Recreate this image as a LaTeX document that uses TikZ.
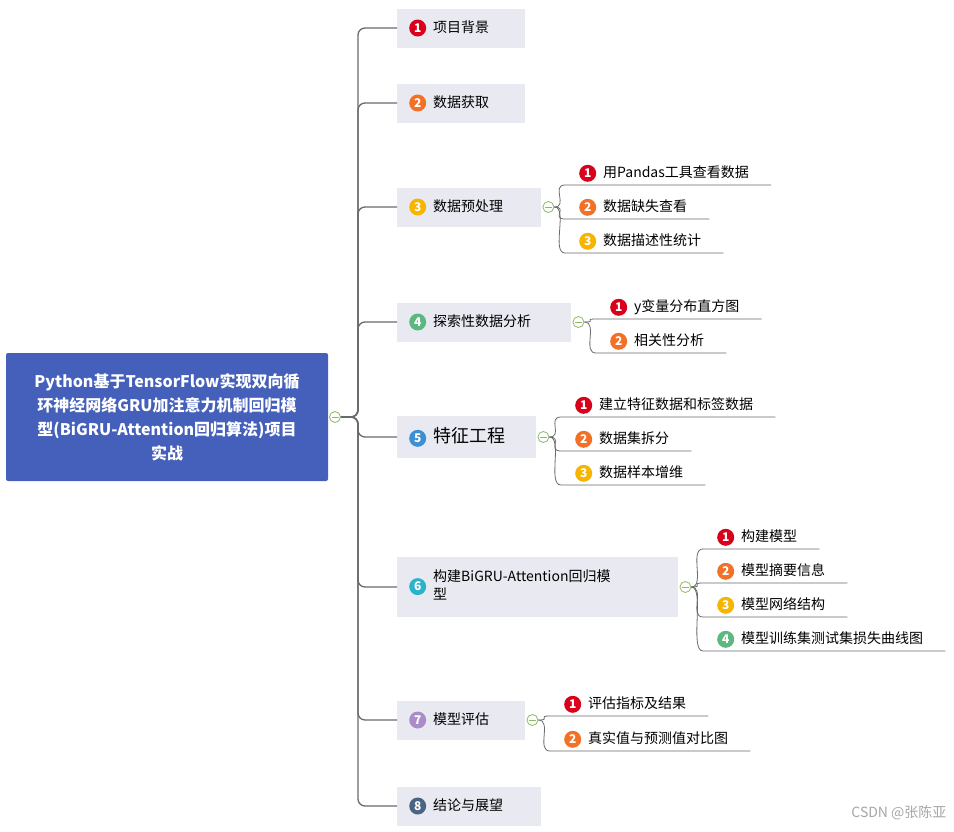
\documentclass[tikz,border=0pt]{standalone}
\usepackage{fontspec}
\setmainfont{Noto Sans CJK SC}
\usetikzlibrary{positioning}
\definecolor{rootblue}{HTML}{4560BA}
\definecolor{boxgray}{HTML}{E9EAF1}
\definecolor{linegray}{HTML}{6A6A6A}
\definecolor{cA}{HTML}{D9001B}
\definecolor{cB}{HTML}{F27127}
\definecolor{cC}{HTML}{F7B500}
\definecolor{cD}{HTML}{5CB87E}
\definecolor{cE}{HTML}{3C8FD3}
\definecolor{cF}{HTML}{2BB4C9}
\definecolor{cG}{HTML}{A98CC9}
\definecolor{cH}{HTML}{4A6584}
\definecolor{fold}{HTML}{8DBB62}
\newcommand{\badge}[2]{\raisebox{-4.5pt}{\tikz\node[circle,fill=#1,inner sep=0pt,minimum size=17pt,text=white,font=\fontsize{12}{12}\selectfont\bfseries]{#2};}\hspace{7pt}}
\tikzset{
  branch/.style={rectangle,fill=boxgray,anchor=west,minimum height=39pt,inner xsep=12pt,align=left,font=\fontsize{14}{18}\selectfont},
  leaf/.style={anchor=south west,inner xsep=4pt,inner ysep=3pt,font=\fontsize{14}{17}\selectfont},
  trunk/.style={draw=linegray,line width=1.3pt,rounded corners=7pt},
  twig/.style={draw=linegray,line width=0.8pt},
  foldmark/.style={circle,draw=fold,fill=white,line width=0.8pt,minimum size=11pt,inner sep=0pt,
    path picture={\draw[fold,line width=0.8pt] ([xshift=-3.5pt]path picture bounding box.center) -- ([xshift=3.5pt]path picture bounding box.center);}}
}
\newcommand{\leafline}[2]{\draw[twig] (#1) .. controls ([xshift=14pt]#1) and ([xshift=-14pt]#2.south west) .. (#2.south west) -- ([xshift=18pt]#2.south east);}
\begin{document}
\begin{tikzpicture}[x=1pt,y=-1pt]
\useasboundingbox (0,0) rectangle (954,831);

% root
\node[fill=rootblue,text=white,rounded corners=2pt,minimum width=322pt,minimum height=128pt,align=center,
  font=\fontsize{16}{24}\selectfont\bfseries] (root) at (167,417)
  {Python基于TensorFlow实现双向循\\环神经网络GRU加注意力机制回归模\\型(BiGRU-Attention回归算法)项目\\实战};

% main branches
\node[branch,text width=104pt] (b1) at (397,28) {\badge{cA}{1}项目背景};
\node[branch,text width=104pt] (b2) at (397,103) {\badge{cB}{2}数据获取};
\node[branch,text width=120pt] (b3) at (397,207) {\badge{cC}{3}数据预处理};
\node[branch,text width=150pt] (b4) at (397,322) {\badge{cD}{4}探索性数据分析};
\node[branch,text width=115pt,minimum height=42pt,font=\fontsize{18}{20}\selectfont] (b5) at (397,437) {\badge{cE}{5}特征工程};
\node[branch,text width=257pt,minimum height=60pt] (b6) at (397,587) {\badge{cF}{6}\begin{tabular}[c]{@{}l@{}}构建BiGRU-Attention回归模\\型\end{tabular}};
\node[branch,text width=104pt] (b7) at (397,720) {\badge{cG}{7}模型评估};
\node[branch,text width=120pt] (b8) at (397,806) {\badge{cH}{8}结论与展望};

\foreach \b in {b1,b2,b3,b4,b5,b6,b7,b8}
  \draw[trunk] (335,417) -- (358,417) |- (\b.west);
\node[foldmark] (fr) at (335,417) {};

% leaves of 3
\node[foldmark] (f3) at ([xshift=7pt]b3.east) {};
\node[leaf] (l31) at (565,185) {\hspace{10pt}\badge{cA}{1}用Pandas工具查看数据};
\node[leaf] (l32) at (565,219) {\hspace{10pt}\badge{cB}{2}数据缺失查看};
\node[leaf] (l33) at (565,253) {\hspace{10pt}\badge{cC}{3}数据描述性统计};
\leafline{f3.east}{l31}
\leafline{f3.east}{l32}
\leafline{f3.east}{l33}

% leaves of 4
\node[foldmark] (f4) at ([xshift=7pt]b4.east) {};
\node[leaf] (l41) at (596,319) {\hspace{10pt}\badge{cA}{1}y变量分布直方图};
\node[leaf] (l42) at (596,353) {\hspace{10pt}\badge{cB}{2}相关性分析};
\leafline{f4.east}{l41}
\leafline{f4.east}{l42}

% leaves of 5
\node[foldmark] (f5) at ([xshift=7pt]b5.east) {};
\node[leaf] (l51) at (561,417) {\hspace{10pt}\badge{cA}{1}建立特征数据和标签数据};
\node[leaf] (l52) at (561,451) {\hspace{10pt}\badge{cB}{2}数据集拆分};
\node[leaf] (l53) at (561,485) {\hspace{10pt}\badge{cC}{3}数据样本增维};
\leafline{f5.east}{l51}
\leafline{f5.east}{l52}
\leafline{f5.east}{l53}

% leaves of 6
\node[foldmark] (f6) at ([xshift=7pt]b6.east) {};
\node[leaf] (l61) at (703,549) {\hspace{10pt}\badge{cA}{1}构建模型};
\node[leaf] (l62) at (703,583) {\hspace{10pt}\badge{cB}{2}模型摘要信息};
\node[leaf] (l63) at (703,617) {\hspace{10pt}\badge{cC}{3}模型网络结构};
\node[leaf] (l64) at (703,651) {\hspace{10pt}\badge{cD}{4}模型训练集测试集损失曲线图};
\leafline{f6.east}{l61}
\leafline{f6.east}{l62}
\leafline{f6.east}{l63}
\leafline{f6.east}{l64}

% leaves of 7
\node[foldmark] (f7) at ([xshift=7pt]b7.east) {};
\node[leaf] (l71) at (550,716) {\hspace{10pt}\badge{cA}{1}评估指标及结果};
\node[leaf] (l72) at (550,751) {\hspace{10pt}\badge{cB}{2}真实值与预测值对比图};
\leafline{f7.east}{l71}
\leafline{f7.east}{l72}

\node[text=gray!70,anchor=east,font=\fontsize{14}{16}\selectfont] (mark) at (950,813) {CSDN @张陈亚};
\end{tikzpicture}
\end{document}
